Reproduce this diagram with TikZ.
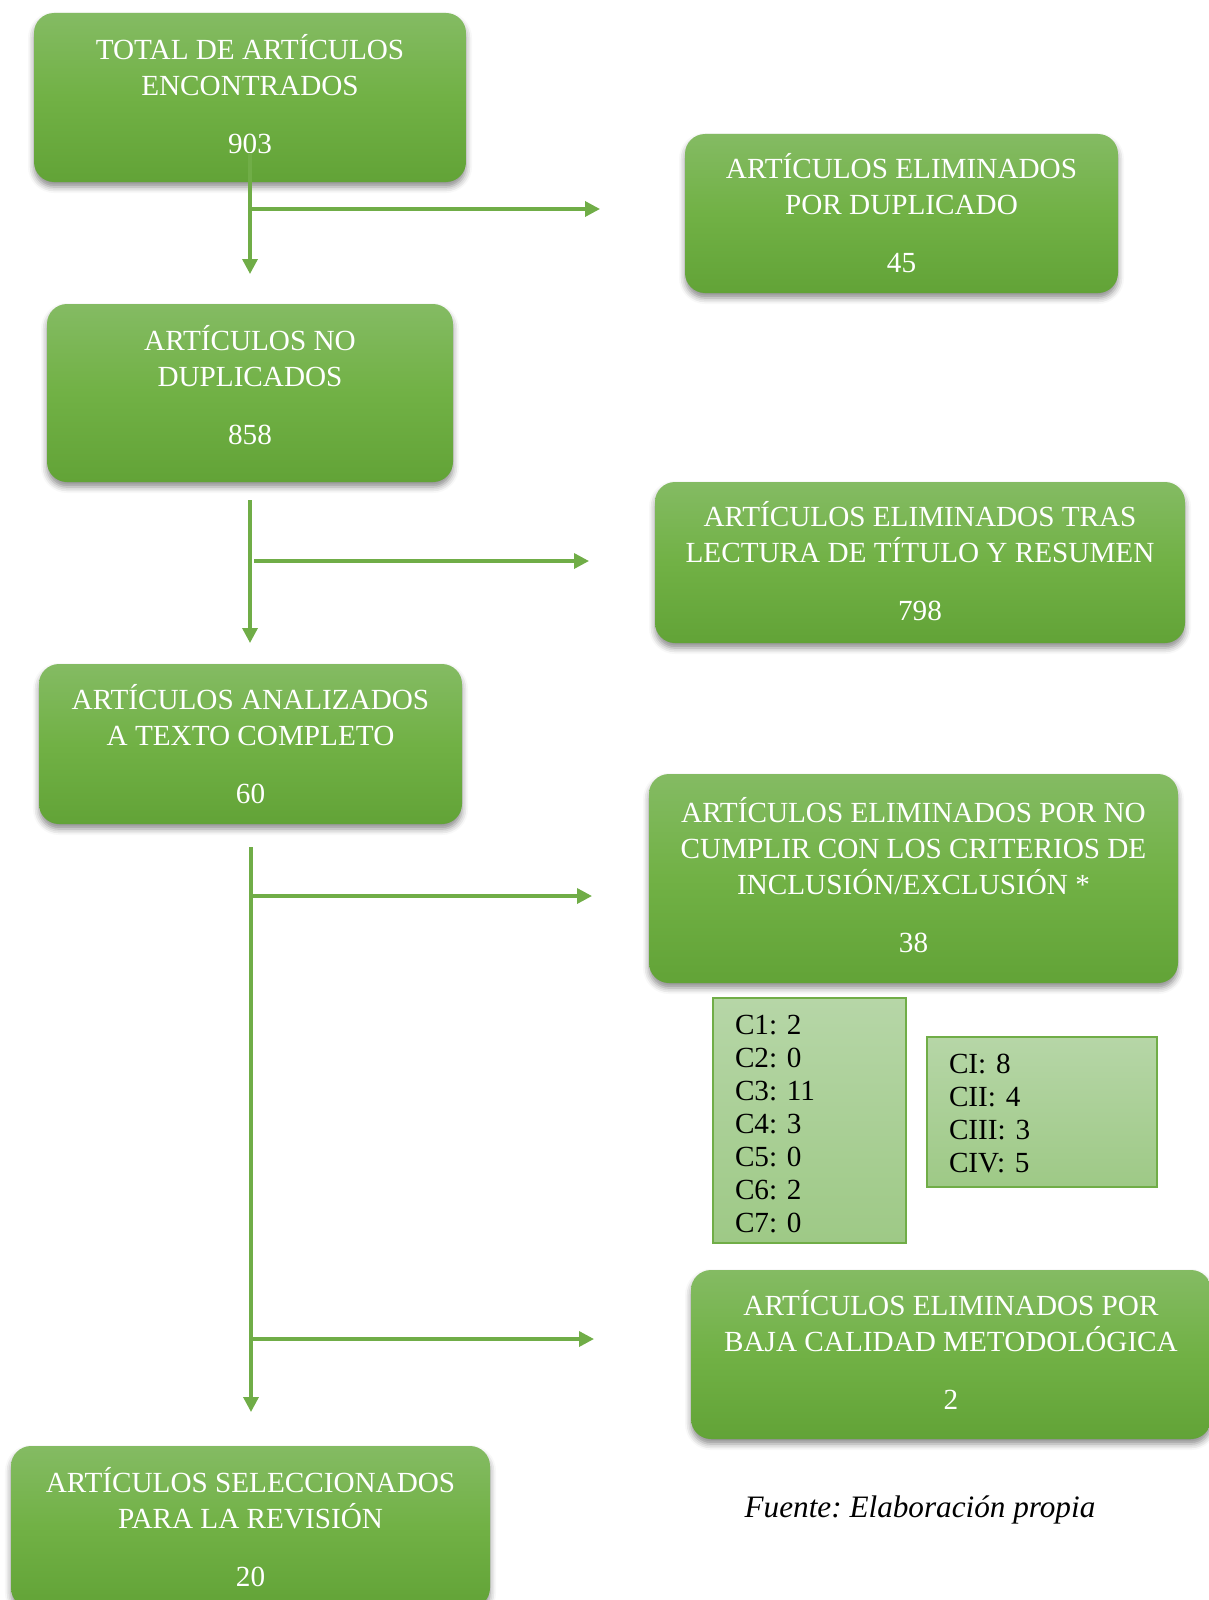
\documentclass[tikz,border=0pt]{standalone}
\usepackage{fontspec}
\setmainfont{Liberation Serif}
\usetikzlibrary{arrows.meta,shadows.blur}
\definecolor{grnTop}{RGB}{132,187,99}
\definecolor{grnMid}{RGB}{113,177,69}
\definecolor{grnBot}{RGB}{98,163,55}
\definecolor{grnLine}{RGB}{112,173,71}
\definecolor{critTop}{RGB}{182,214,167}
\definecolor{critBot}{RGB}{158,201,134}
\frenchspacing

\begin{document}
\begin{tikzpicture}[
    x=0.5pt,y=-0.5pt,
    box/.style={rounded corners=10pt,top color=grnTop,bottom color=grnBot,middle color=grnMid,
        text=white,align=center,inner sep=2pt,font=\fontsize{14.6}{18}\selectfont,
        blur shadow={shadow xshift=0pt,shadow yshift=-2.5pt,shadow blur radius=3pt,shadow opacity=45}},
    crit/.style={draw=grnLine,line width=1pt,top color=critTop,bottom color=critBot,
        align=left,inner xsep=11pt,font=\fontsize{14.6}{16.5}\selectfont},
    arr/.style={-{Triangle[length=7.5pt,width=7.5pt]},line width=1.7pt,draw=grnLine}
]
\useasboundingbox (0,0) rectangle (1209,1600);

% main column
\node[box,minimum width=216pt,minimum height=84.5pt,text depth=4pt] (total) at (250,97.5)
    {TOTAL DE ARTÍCULOS\\ENCONTRADOS\\[11pt]903};
\node[box,minimum width=203pt,minimum height=89pt,text depth=8pt] (nodup) at (250,393)
    {ARTÍCULOS NO\\DUPLICADOS\\[11pt]858};
\node[box,minimum width=211.5pt,minimum height=80pt] (texto) at (250.5,744)
    {ARTÍCULOS ANALIZADOS\\A TEXTO COMPLETO\\[11pt]60};
\node[box,minimum width=239.5pt,minimum height=81pt] (selec) at (250.5,1527)
    {ARTÍCULOS SELECCIONADOS\\PARA LA REVISIÓN\\[11pt]20};

% eliminated
\node[box,minimum width=216.5pt,minimum height=79.5pt] (dupl) at (901.5,213.5)
    {ARTÍCULOS ELIMINADOS\\POR DUPLICADO\\[11pt]45};
\node[box,minimum width=265pt,minimum height=80.5pt,text depth=2pt] (titulo) at (920,562.5)
    {ARTÍCULOS ELIMINADOS TRAS\\LECTURA DE TÍTULO Y RESUMEN\\[11pt]798};
\node[box,minimum width=264.5pt,minimum height=104.5pt,text depth=4pt] (criterio) at (913.5,878.5)
    {ARTÍCULOS ELIMINADOS POR NO\\CUMPLIR CON LOS CRITERIOS DE\\INCLUSIÓN/EXCLUSIÓN *\\[11pt]38};
\node[box,minimum width=260pt,minimum height=84.5pt,text depth=5pt] (calidad) at (951,1354.5)
    {ARTÍCULOS ELIMINADOS POR\\BAJA CALIDAD METODOLÓGICA\\[11pt]2};

% criteria counts
\node[crit,text width=74.5pt,minimum height=122.5pt,text height=13.5pt] (critC) at (809.5,1120.5)
    {C1: 2\\C2: 0\\C3: 11\\C4: 3\\C5: 0\\C6: 2\\C7: 0};
\node[crit,text width=93pt,minimum height=75pt,text height=11pt] (critR) at (1042,1112)
    {CI: 8\\CII: 4\\CIII: 3\\CIV: 5};

\node[font=\fontsize{15.6}{18}\selectfont\itshape] (fuente) at (920,1510) {Fuente: Elaboración propia};

% connectors
\coordinate (v1a) at (250,153);
\coordinate (v1b) at (250,274);
\coordinate (h1a) at (250,209);
\coordinate (h1b) at (600,209);
\coordinate (v2a) at (250,500);
\coordinate (v2b) at (250,643);
\coordinate (h2a) at (254,561);
\coordinate (h2b) at (589,561);
\coordinate (v3a) at (251,847);
\coordinate (v3b) at (251,1412);
\coordinate (h3a) at (251,896);
\coordinate (h3b) at (592,896);
\coordinate (h4a) at (251,1339);
\coordinate (h4b) at (594,1339);

\draw[arr] (v1a) -- (v1b);
\draw[arr] (h1a) -- (h1b);
\draw[arr] (v2a) -- (v2b);
\draw[arr] (h2a) -- (h2b);
\draw[arr] (v3a) -- (v3b);
\draw[arr] (h3a) -- (h3b);
\draw[arr] (h4a) -- (h4b);
\end{tikzpicture}
\end{document}
